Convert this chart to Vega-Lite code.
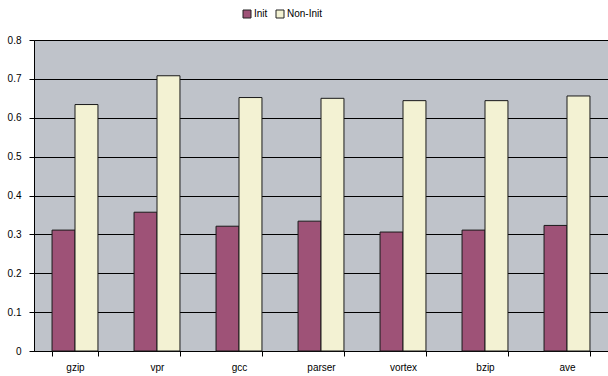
{
  "$schema": "https://vega.github.io/schema/vega-lite/v6.json",
  "width": 574,
  "height": 311,
  "autosize": "none",
  "padding": {"left": 34, "top": 40, "right": 0, "bottom": 25},
  "background": "white",
  "config": {
    "font": "Liberation Sans",
    "view": {"fill": "#BFC3CA", "stroke": "#808080", "strokeWidth": 1}
  },
  "data": {
    "values": [
      {"bench": "gzip", "type": "Init", "value": 0.311},
      {"bench": "gzip", "type": "Non-Init", "value": 0.634},
      {"bench": "vpr", "type": "Init", "value": 0.357},
      {"bench": "vpr", "type": "Non-Init", "value": 0.708},
      {"bench": "gcc", "type": "Init", "value": 0.321},
      {"bench": "gcc", "type": "Non-Init", "value": 0.652},
      {"bench": "parser", "type": "Init", "value": 0.334},
      {"bench": "parser", "type": "Non-Init", "value": 0.650},
      {"bench": "vortex", "type": "Init", "value": 0.306},
      {"bench": "vortex", "type": "Non-Init", "value": 0.644},
      {"bench": "bzip", "type": "Init", "value": 0.311},
      {"bench": "bzip", "type": "Non-Init", "value": 0.644},
      {"bench": "ave", "type": "Init", "value": 0.323},
      {"bench": "ave", "type": "Non-Init", "value": 0.656}
    ]
  },
  "mark": {"type": "bar", "stroke": "#1a1a1a", "strokeWidth": 1},
  "encoding": {
    "x": {
      "field": "bench",
      "type": "nominal",
      "sort": ["gzip", "vpr", "gcc", "parser", "vortex", "bzip", "ave"],
      "scale": {"paddingInner": 0.44, "paddingOuter": 0.22},
      "axis": {
        "title": null,
        "labelAngle": 0,
        "labelFontSize": 10,
        "labelColor": "#000",
        "labelPadding": 6,
        "domainColor": "#000",
        "tickColor": "#000",
        "tickBand": "extent",
        "tickSize": 5,
        "grid": false
      }
    },
    "xOffset": {"field": "type", "type": "nominal", "scale": {"paddingInner": 0}},
    "y": {
      "field": "value",
      "type": "quantitative",
      "scale": {"domain": [0, 0.8], "nice": false},
      "axis": {
        "title": null,
        "values": [0, 0.1, 0.2, 0.3, 0.4, 0.5, 0.6, 0.7, 0.8],
        "format": "~g",
        "labelFontSize": 10,
        "labelColor": "#000",
        "labelPadding": 8,
        "domainColor": "#000",
        "tickColor": "#000",
        "tickSize": 5,
        "gridColor": "#000",
        "gridOpacity": 1,
        "gridWidth": 1
      }
    },
    "color": {
      "field": "type",
      "type": "nominal",
      "scale": {"domain": ["Init", "Non-Init"], "range": ["#9E5277", "#F3F2D3"]},
      "legend": {
        "title": null,
        "orient": "none",
        "direction": "horizontal",
        "legendX": 208,
        "legendY": -31,
        "symbolType": "square",
        "symbolSize": 64,
        "symbolStrokeColor": "#222",
        "symbolStrokeWidth": 1,
        "labelFontSize": 10,
        "labelColor": "#000",
        "labelOffset": 2,
        "columnPadding": 6
      }
    }
  }
}
